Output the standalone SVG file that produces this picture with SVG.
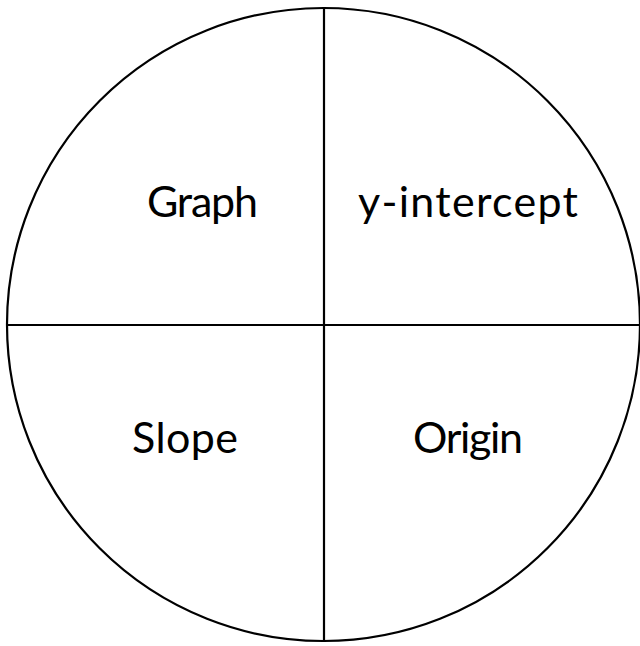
<svg xmlns="http://www.w3.org/2000/svg" width="640" height="646" viewBox="0 0 640 646">
<style>
.ln{fill:none;stroke:#000;stroke-width:2.2}
.t{font-family:Lato,"Open Sans",sans-serif;font-size:43px;fill:#000;text-anchor:middle}
</style>
<rect width="640" height="646" fill="#fff"/>
<g id="connectors">
<circle class="ln" cx="323.5" cy="324.5" r="316.5"/>
<line class="ln" x1="324" y1="8" x2="324" y2="641"/>
<line class="ln" x1="7" y1="325" x2="640" y2="325"/>
</g>
<g id="graph"><text class="t" x="202.5" y="217" textLength="111" lengthAdjust="spacing">Graph</text></g>
<g id="yint"><text class="t" x="468" y="217" textLength="220" lengthAdjust="spacing">y-intercept</text></g>
<g id="slope"><text class="t" x="185" y="453" textLength="106" lengthAdjust="spacing">Slope</text></g>
<g id="origin"><text class="t" x="468" y="453" textLength="110" lengthAdjust="spacing">Origin</text></g>
</svg>
